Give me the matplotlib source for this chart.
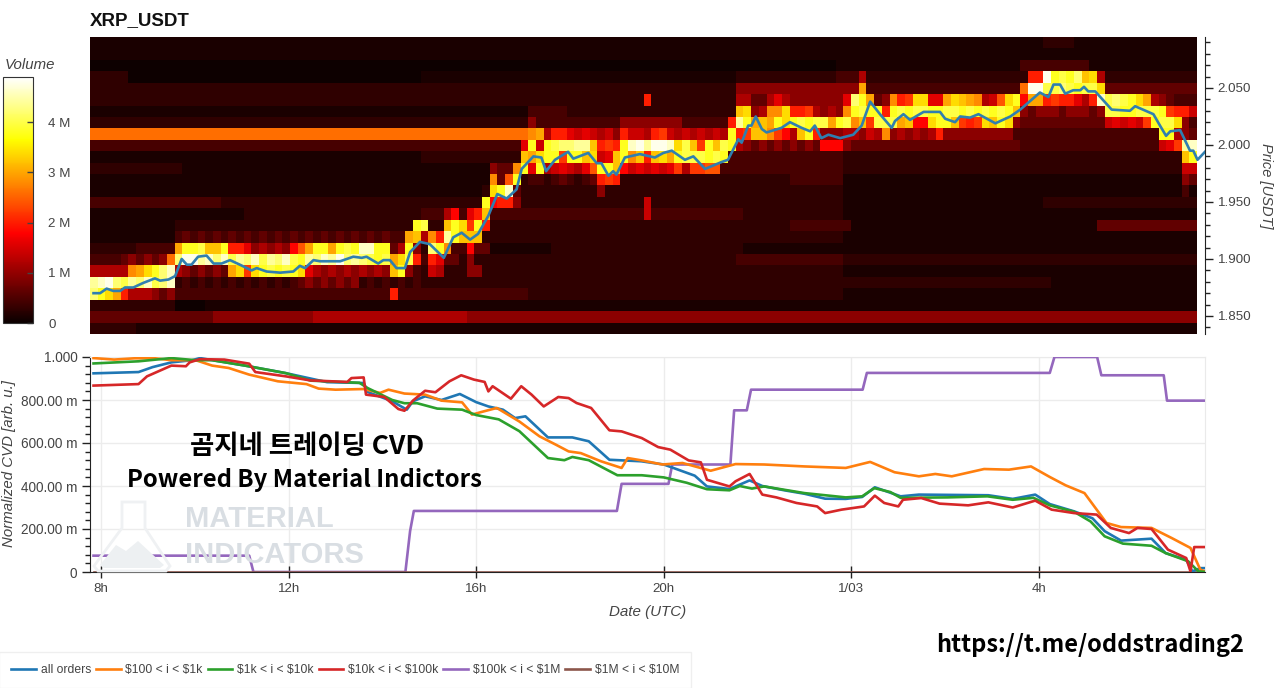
import numpy as np
import matplotlib
matplotlib.use("Agg")
import matplotlib.pyplot as plt
from matplotlib.patches import Polygon
from matplotlib.ticker import FixedLocator, FixedFormatter

plt.rcParams['font.family'] = ['Liberation Sans', 'DejaVu Sans']

W, H = 1280, 688

# volume per price row (top row first), one char per 10 min bucket, base 36 level
HEAT_ROWS = [
    "1"*124 + "2"*4 + "1"*16,
    "1"*144,
    "0"*97 + "1"*24 + "3"*9 + "1"*14,
    "2"*5 + "0"*38 + "1"*41 + "2"*13 + "333" + "6" + "2"*21 + "aa" + "o" + "jkjl" + "gh" + "6" + "2"*12,
    "2"*84 + "5"*16 + "f" + "3"*20 + "d" + "oo" + "k" + "klkjkk" + "h" + "4"*12,
    "2"*72 + "a" + "2"*11 + "6644686" + "5"*7 + "8l" + "jf" + "45" + "e" + "ab" + "hh" + "88" + "fhgfe" + "67" + "c" + "hj" + "9" + "ff" + "abaa86a" + "n" + "klkjh" + "f" + "654333",
    "1"*57 + "3"*5 + "2"*22 + "gh56ee" + "h" + "aa" + "b" + "6565" + "ejkj" + "ja" + "jkjkkjjkkjkjkjkj" + "g" + "54555455545" + "kkjjkkkj" + "ba" + "a7",
    "2"*57 + "5" + "333" + "3"*8 + "5"*8 + "3"*6 + "a" + "mj" + "fgf" + "jh" + "jkjkk" + "f" + "j" + "k" + "egb" + "kkk" + "fg" + "99" + "hjj" + "g" + "bab" + "hg" + "jh" + "5" + "4"*11 + "78787" + "b" + "jk" + "kh" + "53",
    "d"*57 + "ef" + "6" + "aa" + "8787" + "675" + "a" + "776" + "ab" + "76767676" + "ja" + "b" + "gg" + "eb96" + "gja" + "555" + "665" + "76e" + "565656" + "a" + "5"*9 + "3"*19 + "jj" + "654",
    "3"*56 + "8j7" + "jkllmm" + "g" + "aba" + "j" + "nomoon" + "hkgb" + "jgkj" + "6" + "5454545454" + "999" + "5" + "4"*22 + "3"*18 + "78" + "b" + "mn",
    "1"*43 + "2"*13 + "gfh" + "jj" + "b" + "jjgh" + "78g" + "j" + "e" + "g" + "a" + "ghf" + "jk" + "kkjk" + "j" + "3"*15 + "2"*44 + "gj",
    "2"*12 + "1"*40 + "5" + "44" + "e" + "j8j" + "678768" + "c" + "jjg" + "9787878" + "b" + "6" + "bb" + "cc" + "3"*16 + "2"*44 + "77",
    "1"*52 + "e4cj" + "233" + "2343234" + "aba" + "2"*22 + "3"*7 + "1"*44 + "54",
    "1"*51 + "2" + "h" + "jn" + "4" + "2"*10 + "5" + "2"*31 + "1"*6 + "1"*38 + "31",
    "3"*17 + "2"*26 + "2"*8 + "j9aa5" + "2"*16 + "7" + "2"*25 + "1"*26 + "2"*20,
    "1"*20 + "2"*23 + "333" + "693" + "8a" + "g" + "3"*20 + "7" + "3"*12 + "2"*13 + "1"*46,
    "1"*11 + "2"*31 + "j" + "k22" + "gj" + "hbja" + "2"*39 + "3"*7 + "3" + "1"*32 + "4"*13,
    "1"*11 + "34"*14 + "3" + "3fg" + "6eamj" + "ggg" + "2"*47 + "1"*46,
    "2"*6 + "3"*5 + "f" + "jj" + "k" + "gg" + "j" + "aa8" + "56565" + "9cf" + "jj" + "f" + "jkj" + "nn" + "jj" + "46j5" + "2" + "lj" + "e" + "33" + "9" + "44" + "1"*8 + "2"*25 + "1"*59,
    "3333" + "45454" + "5" + "d" + "l" + "oo" + "mnlnkmlnkmlnkjmlnmolmlkjk" + "fhka" + "3" + "a8" + "44" + "2" + "5" + "2"*34 + "3"*14 + "2"*46,
    "66666" + "e" + "fh" + "j" + "ln" + "65" + "45454" + "fh" + "b" + "h" + "jkjkj" + "h" + "8" + "6565656565" + "gj53" + "2" + "76" + "222" + "55" + "2"*47 + "1"*46,
    "mnolkmlnkln" + "23"*8 + "45"*4 + "23"*4 + "2"*57 + "2"*25 + "1"*19,
    "ljhf" + "a" + "666545" + "3"*28 + "a" + "333" + "3"*14 + "2"*41 + "1"*46,
    "2"*11 + "0"*4 + "1"*28 + "1"*101,
    "4"*16 + "5"*13 + "6"*20 + "5"*95,
    "2"*6 + "1"*138,
]
# volume in millions for each level
LEVEL_VOLUME = [.03, .12, .28, .45, .65, .95, 1.2, 1.4, 1.6, 1.8, 2.0, 2.2, 2.4, 2.6, 2.8, 3.0, 3.2, 3.4, 3.6, 3.8, 4.0, 4.2, 4.4, 4.6, 4.8]

# price line
PRICE_H = [7.84, 7.98, 8.12, 8.26, 8.41, 8.51, 8.69, 8.90, 9.15, 9.26, 9.44, 9.58, 9.72, 9.83, 9.93, 10.07, 10.25, 10.40, 10.57, 10.75,
           10.96, 11.21, 11.32, 11.53, 11.82, 12.10, 12.24, 12.35, 12.53, 12.67, 13.10, 13.38, 13.56, 13.66, 13.91, 14.02, 14.16, 14.30, 14.48, 14.59,
           14.80, 15.01, 15.31, 15.51, 15.69, 15.87, 16.04, 16.26, 16.45, 16.65, 16.86, 16.97, 17.22, 17.39, 17.49, 17.68, 17.96, 18.07, 18.39, 18.57,
           18.67, 18.82, 18.92, 18.99, 19.17, 19.49, 19.81, 19.99, 20.17, 20.45, 20.63, 20.88, 21.23, 21.37, 21.59, 21.66, 21.80, 21.87, 21.96, 22.09,
           22.19, 22.51, 22.69, 22.94, 23.12, 23.22, 23.36, 23.51, 23.76, 24.04, 24.22, 24.40, 24.61, 24.86, 24.93, 25.11, 25.25, 25.54, 25.89, 26.00,
           26.21, 26.32, 26.53, 26.71, 27.07, 27.39, 27.60, 27.74, 28.02, 28.20, 28.31, 28.45, 28.56, 28.73, 28.88, 28.96, 29.05, 29.20, 29.55, 29.94,
           30.05, 30.44, 30.58, 30.71, 30.80, 31.01, 31.22, 31.29, 31.38, 31.54]
PRICE = [1.870, 1.870, 1.874, 1.872, 1.872, 1.875, 1.875, 1.879, 1.883, 1.881, 1.882, 1.885, 1.900, 1.895, 1.895, 1.902, 1.903, 1.896, 1.896, 1.899,
         1.895, 1.890, 1.892, 1.889, 1.888, 1.889, 1.894, 1.892, 1.899, 1.898, 1.898, 1.902, 1.901, 1.902, 1.896, 1.899, 1.899, 1.892, 1.892, 1.906,
         1.915, 1.913, 1.901, 1.919, 1.923, 1.917, 1.922, 1.938, 1.957, 1.953, 1.961, 1.979, 1.990, 1.989, 1.977, 1.987, 1.994, 1.988, 1.993, 1.984,
         1.984, 1.973, 1.977, 1.974, 1.989, 1.992, 1.989, 1.993, 1.995, 1.987, 1.990, 1.979, 1.985, 1.987, 2.005, 2.002, 2.017, 2.017, 2.025, 2.014,
         2.011, 2.015, 2.020, 2.015, 2.012, 2.017, 2.006, 2.009, 2.006, 2.009, 2.017, 2.038, 2.027, 2.015, 2.021, 2.027, 2.022, 2.029, 2.029, 2.023,
         2.020, 2.025, 2.024, 2.027, 2.019, 2.025, 2.031, 2.036, 2.046, 2.042, 2.053, 2.053, 2.045, 2.048, 2.048, 2.051, 2.047, 2.047, 2.031, 2.030,
         2.034, 2.027, 2.017, 2.008, 2.012, 2.013, 1.995, 1.995, 1.987, 1.994]

# normalized CVD per order size
ALL_H = [7.84, 8.8, 9.1, 9.5, 9.94, 10.11, 11.07, 11.94, 12.82, 13.6, 13.69, 14.21, 14.52, 14.65, 14.91, 15.26, 15.65, 16.0, 16.26, 16.57,
         16.83, 17.05, 17.53, 18.05, 18.4, 18.84, 19.52, 20.0, 20.66, 20.92, 21.4, 21.83, 22.1, 22.57, 23.0, 23.44, 23.88, 24.23, 24.5, 25.05,
         25.44, 26.92, 27.44, 27.92, 28.23, 28.75, 29.14, 29.4, 29.75, 30.4, 30.7, 31.14, 31.27, 31.44, 31.57]
ALL_V = [.924, .93, .953, .975, .985, .995, .96, .925, .883, .879, .837, .794, .755, .794, .817, .80, .828, .79, .77, .755,
         .716, .724, .626, .626, .608, .522, .515, .50, .448, .398, .386, .426, .40, .38, .364, .341, .34, .349, .394, .352,
         .36, .357, .34, .36, .316, .282, .25, .19, .146, .155, .088, .057, .003, .018, .018]

ORANGE_H = [7.84, 8.28, 8.72, 9.15, 9.5, 10.02, 10.37, 10.72, 11.16, 11.77, 12.38, 12.64, 13.0, 13.6, 13.95, 14.13, 14.47, 14.91, 15.26, 15.7,
            15.91, 16.09, 16.44, 16.92, 17.35, 17.7, 17.97, 18.23, 18.66, 19.1, 19.23, 19.53, 19.97, 20.4, 21.0, 21.53, 22.14, 23.0, 23.88, 24.4,
            24.92, 25.44, 25.79, 26.14, 26.83, 27.36, 27.83, 28.23, 28.57, 28.97, 29.44, 29.75, 30.4, 30.83, 31.23, 31.44, 31.57]
ORANGE_V = [.995, .988, .994, .994, .985, .985, .96, .949, .918, .887, .874, .853, .848, .851, .833, .848, .83, .825, .797, .789,
            .732, .743, .763, .70, .631, .592, .561, .553, .515, .484, .53, .519, .50, .507, .471, .502, .50, .491, .484, .512,
            .464, .445, .456, .445, .479, .476, .491, .442, .403, .367, .228, .209, .205, .158, .112, .011, 0]

GREEN_H = [7.84, 8.8, 9.5, 9.76, 10.02, 10.37, 11.07, 11.94, 12.47, 13.51, 13.69, 14.21, 14.47, 14.74, 15.17, 15.7, 16.0, 16.48, 16.92, 17.53,
           17.88, 18.05, 18.4, 19.01, 19.53, 20.0, 20.49, 20.92, 21.4, 21.62, 21.88, 22.14, 23.0, 23.88, 24.23, 24.49, 24.83, 25.05, 26.05, 26.9,
           27.44, 27.88, 28.23, 28.75, 29.1, 29.4, 29.79, 30.4, 30.7, 31.18, 31.4, 31.57]
GREEN_V = [.97, .98, .995, .99, .985, .985, .96, .925, .89, .88, .855, .80, .785, .785, .76, .755, .73, .71, .655, .53,
           .52, .535, .52, .45, .45, .44, .415, .385, .38, .40, .388, .398, .367, .347, .352, .39, .372, .345, .347, .352,
           .336, .345, .31, .28, .235, .166, .132, .122, .088, .05, .003, 0]

RED_H = [7.84, 8.8, 8.98, 9.5, 9.81, 9.89, 10.11, 10.63, 11.16, 11.29, 11.94, 12.47, 13.25, 13.34, 13.6, 13.65, 14.04, 14.34, 14.47, 14.65,
         14.91, 15.13, 15.43, 15.68, 15.95, 16.18, 16.26, 16.35, 16.74, 16.96, 17.18, 17.44, 17.75, 17.97, 18.14, 18.45, 18.84, 19.1, 19.53, 19.88,
         20.14, 20.53, 20.79, 20.92, 21.4, 21.53, 21.83, 22.1, 22.4, 22.83, 23.27, 23.44, 23.79, 24.27, 24.5, 24.7, 25.0, 25.1, 25.49, 25.88,
         26.49, 26.92, 27.44, 27.92, 28.27, 28.75, 29.23, 29.53, 29.92, 30.1, 30.4, 30.75, 31.14, 31.23, 31.31, 31.57]
RED_V = [.867, .874, .91, .96, .957, .975, .99, .988, .969, .93, .91, .891, .884, .902, .905, .825, .814, .758, .75, .797,
         .843, .836, .887, .915, .895, .884, .84, .864, .806, .864, .825, .77, .814, .809, .786, .763, .659, .654, .623, .581,
         .569, .519, .51, .429, .398, .422, .456, .36, .347, .321, .305, .274, .29, .305, .355, .321, .305, .336, .344, .318,
         .31, .324, .30, .332, .29, .274, .267, .205, .181, .205, .20, .104, .065, .003, .116, .116]

PURPLE_H = [7.84, 11.16, 11.25, 14.49, 14.59, 14.67, 19.0, 19.1, 20.1, 20.18, 21.42, 21.5, 21.77, 21.86, 24.24, 24.33, 28.23, 28.33, 29.24, 29.33, 30.66, 30.73, 31.57]
PURPLE_V = [.076, .076, 0, 0, .19, .284, .284, .41, .41, .50, .50, .752, .752, .848, .848, .926, .926, 1.0, 1.0, .915, .915, .797, .797]

BROWN_H = [7.84, 31.57]
BROWN_V = [0, 0]

SERIES_LABELS = ["all orders", r"\$100 < i < \$1k", r"\$1k < i < \$10k", r"\$10k < i < \$100k", r"\$100k < i < \$1M", r"\$1M < i < \$10M"]
SERIES_COLORS = ["#1f77b4", "#ff7f0e", "#2ca02c", "#d62728", "#9467bd", "#8c564b"]

HOUR_TICKS = [8, 12, 16, 20, 24, 28]
HOUR_LABELS = ["8h", "12h", "16h", "20h", "1/03", "4h"]
CVD_TICKS = [0, .2, .4, .6, .8, 1.0]
CVD_LABELS = ["0", "200.00 m", "400.00 m", "600.00 m", "800.00 m", "1.000"]
PRICE_TICKS = [1.85, 1.90, 1.95, 2.00, 2.05]
PRICE_LABELS = ["1.850", "1.900", "1.950", "2.000", "2.050"]
VOL_TICKS = [0, 1, 2, 3, 4]
VOL_LABELS = ["0", "1 M", "2 M", "3 M", "4 M"]

XLIM = (7.765, 31.54)
HEAT_X = (7.765, 31.37)
YLIM_PRICE = (1.8342, 2.0947)
GREY = "#444444"


def rect(x0, y0, x1, y1):
    return [x0/W, 1-y1/H, (x1-x0)/W, (y1-y0)/H]


def fx(x):
    return x/W


def fy(y):
    return 1-y/H


fig = plt.figure(figsize=(12.8, 6.88), dpi=100)
ax1 = fig.add_axes(rect(90, 37, 1205, 334))
ax2 = fig.add_axes(rect(90, 357, 1205, 572))
cax = fig.add_axes(rect(3, 77, 33, 323))

# heatmap
heat = np.array([[LEVEL_VOLUME[int(c, 36)] for c in (r + r[-1]*144)[:144]] for r in HEAT_ROWS])
xedges = np.linspace(HEAT_X[0], HEAT_X[1], 145)
yedges = np.linspace(YLIM_PRICE[1], YLIM_PRICE[0], 27)
mesh = ax1.pcolormesh(xedges, yedges, heat, cmap='hot', vmin=0, vmax=4.9, shading='flat')
ax1.plot(PRICE_H, PRICE, color="#2f7fb0", lw=1.9)
ax1.set_xlim(XLIM)
ax1.set_ylim(YLIM_PRICE)
ax1.set_xticks([])
for s in ['left', 'bottom', 'top']:
    ax1.spines[s].set_visible(False)
ax1.spines['right'].set_color("#222222")
ax1.yaxis.tick_right()
ax1.yaxis.set_major_locator(FixedLocator(PRICE_TICKS))
ax1.yaxis.set_major_formatter(FixedFormatter(PRICE_LABELS))
ax1.yaxis.set_minor_locator(FixedLocator(np.arange(1.84, 2.095, 0.01)))
ax1.tick_params(axis='y', which='major', length=6, width=1, color="#222222", labelsize=9.6, labelcolor=GREY, pad=3)
ax1.tick_params(axis='y', which='minor', length=3.5, width=1, color="#222222")
fig.text(fx(1266), fy(186), "Price [USDT]", rotation=-90, style='italic', fontsize=10.5, color=GREY, ha='center', va='center')
fig.text(fx(90), fy(21), "XRP_USDT", fontsize=13.5, fontweight='bold', color="#111111", ha='left', va='center')

# colorbar
cb = fig.colorbar(mesh, cax=cax)
cb.set_ticks(VOL_TICKS)
cb.set_ticklabels(VOL_LABELS)
cb.ax.tick_params(direction='in', length=4, width=1, color="#444444", labelsize=9.6, labelcolor=GREY, pad=11)
cb.outline.set_edgecolor("#333333")
cb.outline.set_linewidth(0.8)
fig.text(fx(5), fy(65), "Volume", style='italic', fontsize=10.8, color=GREY, ha='left', va='center')

# cvd panel
ax2.set_xlim(XLIM)
ax2.set_ylim(0, 1)
ax2.grid(True, color="#ececec", lw=1)
ax2.set_axisbelow(True)
ALL_SERIES = [(ALL_H, ALL_V), (ORANGE_H, ORANGE_V), (GREEN_H, GREEN_V), (RED_H, RED_V), (PURPLE_H, PURPLE_V), (BROWN_H, BROWN_V)]
# watermark goes under the lines
WM = "#d9dee3"
fig.text(fx(185), fy(519), "MATERIAL", fontsize=21, fontweight='bold', color=WM, ha='left', va='center', zorder=0.5)
fig.text(fx(185), fy(555), "INDICATORS", fontsize=21, fontweight='bold', color=WM, ha='left', va='center', zorder=0.5)
flask = [(122, 502), (145, 502), (145, 528), (170, 566), (166, 571), (98, 571), (94, 566), (122, 528)]
hills = [(100, 565), (116, 545), (126, 551), (138, 541), (164, 565), (160, 568), (104, 568)]
fig.add_artist(Polygon([(fx(x), fy(y)) for x, y in flask], closed=True, fill=False, ec="#eff1f3", lw=2, transform=fig.transFigure, zorder=0.5))
fig.add_artist(Polygon([(fx(x), fy(y)) for x, y in hills], closed=True, fc="#edf0f2", ec="none", transform=fig.transFigure, zorder=0.5))
ax2.patch.set_alpha(0)

order = [4, 5, 0, 1, 2, 3]
lines = {}
for i in order:
    h, v = ALL_SERIES[i]
    lines[i], = ax2.plot(h, v, color=SERIES_COLORS[i], lw=1.9, label=SERIES_LABELS[i], clip_on=True, zorder=3)

ax2.xaxis.set_major_locator(FixedLocator(HOUR_TICKS))
ax2.xaxis.set_major_formatter(FixedFormatter(HOUR_LABELS))
ax2.yaxis.set_major_locator(FixedLocator(CVD_TICKS))
ax2.yaxis.set_major_formatter(FixedFormatter(CVD_LABELS))
ax2.yaxis.set_minor_locator(FixedLocator([t/25 for t in range(26) if t % 5]))
ax2.tick_params(axis='x', which='major', direction='inout', length=8, width=1, color="#222222", labelsize=9.6, labelcolor=GREY, pad=4)
ax2.tick_params(axis='y', which='major', length=6, width=1, color="#222222", labelsize=9.8, labelcolor=GREY, pad=3)
ax2.tick_params(axis='y', which='minor', length=3.5, width=1, color="#222222")
for s in ['top', 'right']:
    ax2.spines[s].set_color("#eaeaea")
for s in ['left', 'bottom']:
    ax2.spines[s].set_color("#222222")
fig.text(fx(648), fy(612), "Date (UTC)", style='italic', fontsize=10.9, color=GREY, ha='center', va='center')
fig.text(fx(9), fy(464), "Normalized CVD [arb. u.]", rotation=90, style='italic', fontsize=10.8, color=GREY, ha='center', va='center')

# legend at the bottom
handles = [lines[i] for i in range(6)]
leg = fig.legend(handles, SERIES_LABELS, loc='lower left', bbox_to_anchor=(fx(-1), fy(688)), ncols=6, frameon=True,
                 fancybox=False, edgecolor="#ececec", fontsize=8.7, labelcolor=GREY, handlelength=2.05, handletextpad=0.4,
                 columnspacing=0.4, borderpad=1.0, borderaxespad=0)
leg.get_frame().set_linewidth(1)

# overlay texts
KR = ['Noto Sans CJK KR', 'DejaVu Sans']
fig.text(fx(307), fy(446), "곰지네 트레이딩 CVD", family=KR, fontweight='bold', fontsize=19, color="black", ha='center', va='center', zorder=5)
fig.text(fx(304), fy(480), "Powered By Material Indictors", family=KR, fontweight='bold', fontsize=17.2, color="black", ha='center', va='center', zorder=5)
fig.text(fx(1090), fy(645), "https://t.me/oddstrading2", family=KR, fontweight='bold', fontsize=17, color="black", ha='center', va='center', zorder=5)

fig.savefig("out.png", dpi=100)
